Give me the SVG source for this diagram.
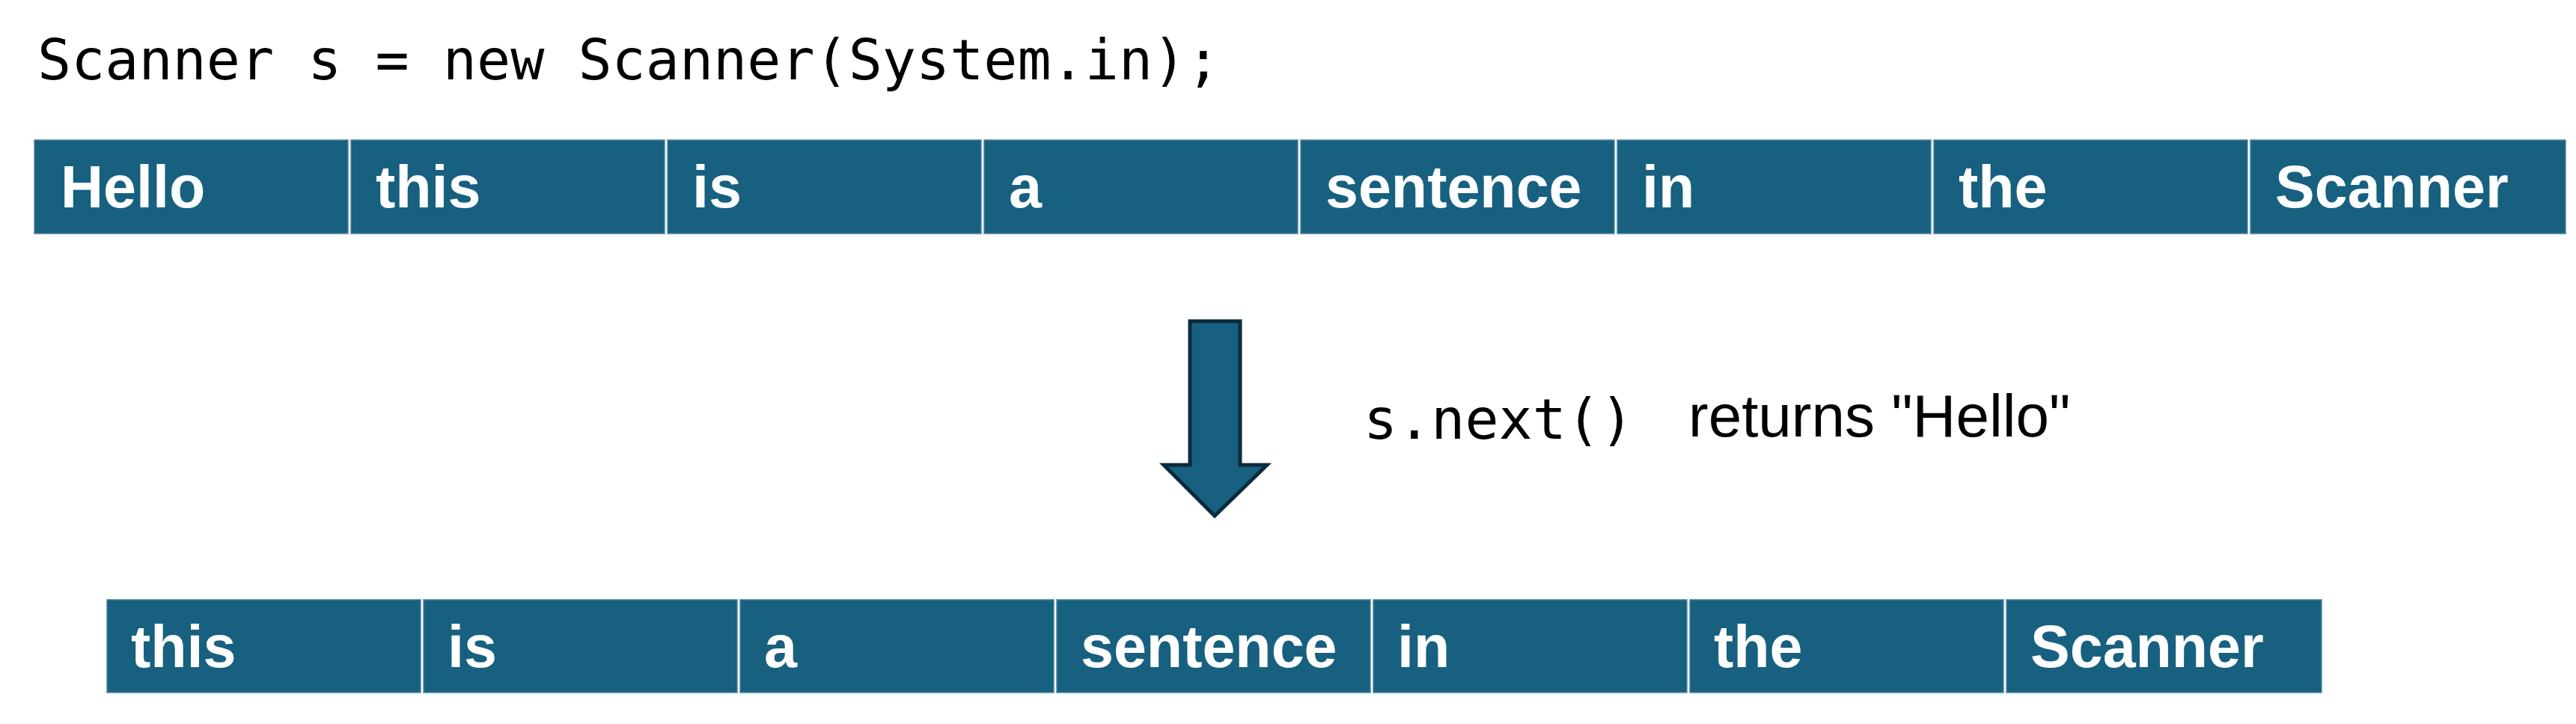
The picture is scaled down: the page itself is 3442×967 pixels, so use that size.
<svg xmlns="http://www.w3.org/2000/svg" width="3442" height="967" viewBox="0 0 3442 967">
<style>
.cell{fill:#17607f;stroke:#4d87a2;stroke-width:1.5}
.w{font-family:"Liberation Sans",Arial,sans-serif;font-weight:bold;font-size:79px;fill:#ffffff}
.code{font-family:"DejaVu Sans Mono","Liberation Mono",monospace;font-size:75px;fill:#000000}
.txt{font-family:"Liberation Sans",Arial,sans-serif;font-size:80px;fill:#000000}
</style>
<rect x="0" y="0" width="3442" height="967" fill="#ffffff"/>
<text id="code" class="code" x="50" y="106">Scanner s = new Scanner(System.in);</text>
<g id="row1">
<g id="r1c1"><rect class="cell" x="46" y="187" width="419" height="125"/><text class="w" x="81" y="277">Hello</text></g>
<g id="r1c2"><rect class="cell" x="469" y="187" width="419" height="125"/><text class="w" x="502" y="277">this</text></g>
<g id="r1c3"><rect class="cell" x="892" y="187" width="419" height="125"/><text class="w" x="925" y="277">is</text></g>
<g id="r1c4"><rect class="cell" x="1315" y="187" width="419" height="125"/><text class="w" x="1348" y="277">a</text></g>
<g id="r1c5"><rect class="cell" x="1738" y="187" width="419" height="125"/><text class="w" x="1771" y="277">sentence</text></g>
<g id="r1c6"><rect class="cell" x="2161" y="187" width="419" height="125"/><text class="w" x="2194" y="277">in</text></g>
<g id="r1c7"><rect class="cell" x="2584" y="187" width="419" height="125"/><text class="w" x="2617" y="277">the</text></g>
<g id="r1c8"><rect class="cell" x="3007" y="187" width="421" height="125"/><text class="w" x="3040" y="277">Scanner</text></g>
</g>
<g id="connectors">
<path id="arrow" d="M1590,429 L1657,429 L1657,621 L1693,621 L1623,689 L1555,621 L1590,621 Z" fill="#17607f" stroke="#0b2b3c" stroke-width="5" stroke-linejoin="miter"/>
</g>
<g id="label">
<text class="code" x="1822" y="586">s.next()</text>
<text class="txt" x="2256" y="583">returns "Hello"</text>
</g>
<g id="row2">
<g id="r2c1"><rect class="cell" x="143" y="801" width="419" height="124"/><text class="w" x="175" y="891">this</text></g>
<g id="r2c2"><rect class="cell" x="566" y="801" width="419" height="124"/><text class="w" x="598" y="891">is</text></g>
<g id="r2c3"><rect class="cell" x="989" y="801" width="419" height="124"/><text class="w" x="1021" y="891">a</text></g>
<g id="r2c4"><rect class="cell" x="1412" y="801" width="419" height="124"/><text class="w" x="1444" y="891">sentence</text></g>
<g id="r2c5"><rect class="cell" x="1835" y="801" width="419" height="124"/><text class="w" x="1867" y="891">in</text></g>
<g id="r2c6"><rect class="cell" x="2258" y="801" width="419" height="124"/><text class="w" x="2290" y="891">the</text></g>
<g id="r2c7"><rect class="cell" x="2681" y="801" width="421" height="124"/><text class="w" x="2713" y="891">Scanner</text></g>
</g>
</svg>
